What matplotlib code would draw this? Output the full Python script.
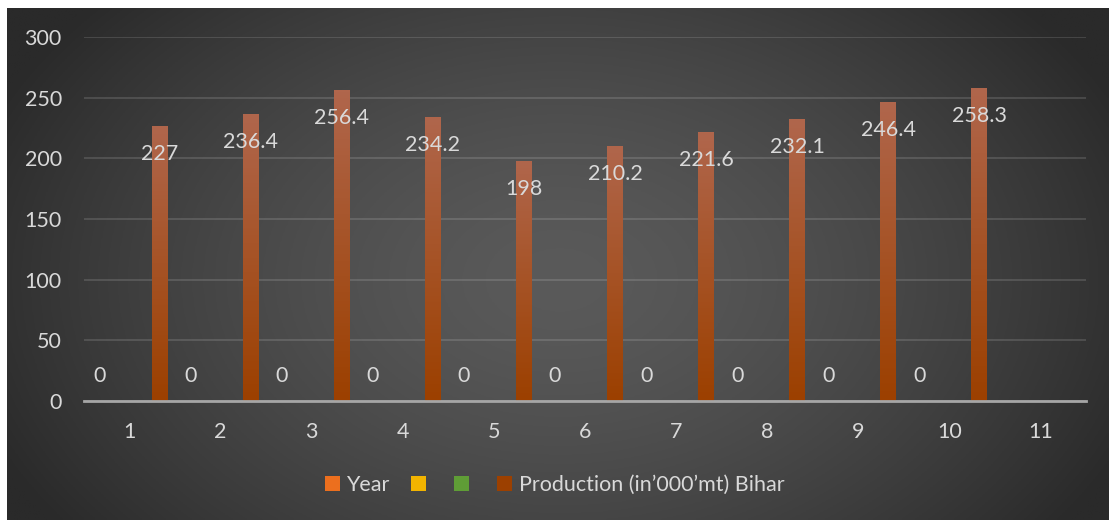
import numpy as np
import matplotlib
matplotlib.use("Agg")
import matplotlib.pyplot as plt
from matplotlib.patches import Patch, Rectangle
from matplotlib.colors import LinearSegmentedColormap

# ---- data ----
categories = ["1", "2", "3", "4", "5", "6", "7", "8", "9", "10", "11"]
year_vals = [0, 0, 0, 0, 0, 0, 0, 0, 0, 0, np.nan]
series2_vals = [np.nan] * 11
series3_vals = [np.nan] * 11
production = [227, 236.4, 256.4, 234.2, 198, 210.2, 221.6, 232.1, 246.4, 258.3, np.nan]
series_names = ["Year", "", "", "Production (in\u2019000\u2019mt) Bihar"]
yticks = [0, 50, 100, 150, 200, 250, 300]

# ---- style ----
FONT = "Lato"
TXT = "#d9d9d9"
FS = 15.5
grad_colors = [("#f5914c", "#ec6f1e"), ("#ffcc2e", "#f2b400"),
               ("#7cb856", "#5f9d36"), ("#b0664c", "#9c4000")]

W, H = 1109, 520
fig = plt.figure(figsize=(W / 100, H / 100), dpi=100, facecolor="white")

# background radial gradient
bg = fig.add_axes([7 / W, 0, 1 - 7 / W, 1 - 8 / H], zorder=0)
bg.set_axis_off()
xx, yy = np.meshgrid(np.linspace(7, W, 400), np.linspace(8, H, 200))
d = np.sqrt(((xx - 560) / 620) ** 2 + ((yy - 280) / 420) ** 2)
d = np.clip(d, 0, 1) ** 1.5
c0, c1 = 90 / 255, 42 / 255
val = c0 + (c1 - c0) * d
img = np.dstack([val, val, val])
bg.imshow(img, aspect="auto", extent=[0, 1, 0, 1], origin="upper")
bg.set_xlim(0, 1)
bg.set_ylim(0, 1)

ax = fig.add_axes([84 / W, 1 - 401 / H, (1086 - 84) / W, (401 - 37) / H], zorder=1)
ax.patch.set_alpha(0)

x = np.arange(1, len(categories) + 1)
catw = (1086 - 84) / len(categories)
offs = np.array([-30, -10, 10, 30]) / catw
bw = 16 / catw

all_series = [year_vals, series2_vals, series3_vals, production]
bar_groups = []
for i, vals in enumerate(all_series):
    bars = ax.bar(x + offs[i], np.nan_to_num(vals, nan=0.0), width=bw,
                  color=grad_colors[i][1], zorder=3, linewidth=0)
    bar_groups.append(bars)
    cmap = LinearSegmentedColormap.from_list("g%d" % i, [grad_colors[i][1], grad_colors[i][0]])
    grad = np.linspace(0, 1, 100).reshape(-1, 1)
    for b, v in zip(bars, vals):
        if np.isnan(v) or v <= 0:
            continue
        bx, by, bwid, bh = b.get_x(), b.get_y(), b.get_width(), b.get_height()
        # soft shadow
        ax.add_patch(Rectangle((bx + bwid * 0.05, by - 1.2), bwid * 0.9, bh + 1.2,
                               facecolor="black", alpha=0.25, zorder=2.5, linewidth=0))
        im = ax.imshow(grad, cmap=cmap, aspect="auto", origin="lower",
                       extent=[bx, bx + bwid, by, by + bh], zorder=3.5)
        im.set_clip_path(b)

# labels
for b, v in zip(bar_groups[0], year_vals):
    if np.isnan(v):
        continue
    ax.annotate(f"{v:g}", (b.get_x() + b.get_width() / 2, v), xytext=(0, 25),
                textcoords="offset pixels", ha="center", va="center",
                color=TXT, fontsize=FS, family=FONT, zorder=5)
for b, v in zip(bar_groups[3], production):
    if np.isnan(v):
        continue
    ax.annotate(f"{v:g}", (b.get_x() + b.get_width() / 2, v), xytext=(0, -28),
                textcoords="offset pixels", ha="center", va="center",
                color=TXT, fontsize=FS, family=FONT, zorder=5)

ax.set_xlim(0.5, len(categories) + 0.5)
ax.set_ylim(0, 300)
ax.set_yticks(yticks)
ax.set_yticklabels([str(t) for t in yticks], family=FONT, fontsize=FS, color=TXT)
ax.set_xticks(x)
ax.set_xticklabels(categories, family=FONT, fontsize=FS, color=TXT)
ax.tick_params(axis="y", length=0, pad=16)
ax.tick_params(axis="x", length=0, pad=15)
ax.grid(axis="y", color="white", alpha=0.13, linewidth=1.5, zorder=1)
ax.set_axisbelow(True)
for s in ["top", "right", "left"]:
    ax.spines[s].set_visible(False)
ax.spines["bottom"].set_color("#a6a6a6")
ax.spines["bottom"].set_linewidth(2)
ax.spines["bottom"].set_zorder(4)

handles = [Patch(facecolor=c[1], edgecolor="none") for c in grad_colors]
leg = fig.legend(handles, series_names, loc="center", bbox_to_anchor=(0.5, 1 - 485 / H),
                 ncol=4, frameon=False, handlelength=0.7, handleheight=0.7,
                 handletextpad=0.3, columnspacing=1.0,
                 prop={"family": FONT, "size": FS})
for t in leg.get_texts():
    t.set_color(TXT)

fig.savefig("out.png", dpi=100, facecolor="white")
